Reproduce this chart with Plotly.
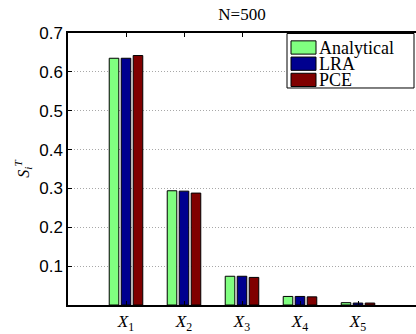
import plotly.graph_objects as go

# Total Sobol' indices per input variable, N=500 samples
variables = ["<i>X</i><sub>1</sub>", "<i>X</i><sub>2</sub>", "<i>X</i><sub>3</sub>",
             "<i>X</i><sub>4</sub>", "<i>X</i><sub>5</sub>"]
positions = [1, 2, 3, 4, 5]
analytical = [0.635, 0.294, 0.074, 0.022, 0.006]
lra = [0.635, 0.293, 0.074, 0.022, 0.005]
pce = [0.642, 0.288, 0.071, 0.021, 0.005]

y_ticks = [0.1, 0.2, 0.3, 0.4, 0.5, 0.6, 0.7]
y_tick_text = ["0.1", "0.2", "0.3", "0.4", "0.5", "0.6", "0.7"]

series_names = ["Analytical", "LRA", "PCE"]
series_values = [analytical, lra, pce]
series_colors = ["#80FF80", "#00008F", "#800000"]

serif = "Liberation Serif"
sans = "Liberation Sans"

W, H = 416, 334
ML, MR, MT, MB = 68, 0, 33, 24
PW, PH = W - ML - MR, H - MT - MB


def px_x(x):
    """Pixel column -> plot-area paper fraction."""
    return (x - ML) / PW


def px_y(y):
    """Pixel row (from top) -> plot-area paper fraction."""
    return (H - MB - y) / PH


fig = go.Figure()
for name, vals, color in zip(series_names, series_values, series_colors):
    fig.add_trace(go.Bar(
        x=positions, y=vals, name=name,
        marker=dict(color=color, line=dict(color="black", width=1)),
    ))

# Boxed legend in the upper-right corner: wide swatches, tight rows
shapes = [dict(type="rect", xref="paper", yref="paper",
               x0=px_x(287), x1=px_x(414), y0=px_y(89), y1=px_y(33.5),
               fillcolor="white", line=dict(color="black", width=1), layer="above")]
annotations = []
row_top = [41, 57.5, 74]
for name, color, top in zip(series_names, series_colors, row_top):
    shapes.append(dict(type="rect", xref="paper", yref="paper",
                       x0=px_x(291), x1=px_x(316), y0=px_y(top + 13.5), y1=px_y(top),
                       fillcolor=color, line=dict(color="black", width=1), layer="above"))
    annotations.append(dict(text=name, xref="paper", yref="paper",
                            x=px_x(317), y=px_y(top + 7), xanchor="left", yanchor="middle",
                            showarrow=False,
                            font=dict(family=serif, size=18, color="black")))

fig.update_layout(
    width=W, height=H,
    margin=dict(l=ML, r=MR, t=MT, b=MB),
    paper_bgcolor="white", plot_bgcolor="white",
    barmode="group", bargap=0.38, bargroupgap=0.2,
    showlegend=False,
    shapes=shapes, annotations=annotations,
    title=dict(text="N=500", x=(ML + W) / 2 / W, xanchor="center",
               y=1 - 14 / H, yanchor="middle",
               font=dict(family=serif, size=17, color="black")),
    xaxis=dict(
        range=[0, 6], tickvals=positions, ticktext=variables,
        ticks="inside", ticklen=4, tickcolor="black",
        showline=True, linecolor="black", linewidth=1.5, mirror="allticks",
        showgrid=False, zeroline=False,
        tickfont=dict(family=serif, size=17, color="black"),
    ),
    yaxis=dict(
        range=[0, 0.7], tickvals=y_ticks, ticktext=y_tick_text,
        ticks="inside", ticklen=4, tickcolor="black",
        showline=True, linecolor="black", linewidth=1.5,
        showgrid=True, gridcolor="#a8a8a8", griddash="1px,2px", gridwidth=1,
        zeroline=False,
        tickfont=dict(family=sans, size=17, color="black"),
        title=dict(text="<i>S</i><sub><i>i</i></sub><sup><i>T</i></sup>",
                   font=dict(family=serif, size=16, color="black"),
                   standoff=6),
    ),
)

fig.write_html("out.html")
